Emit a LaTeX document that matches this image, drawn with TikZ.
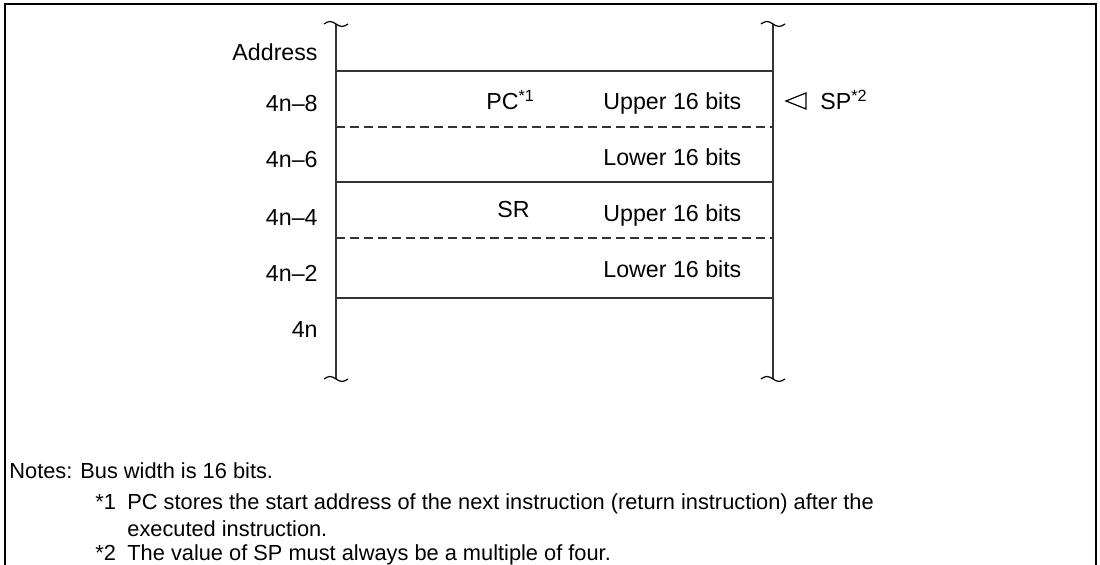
\documentclass[tikz,border=0pt]{standalone}
\usepackage{fontspec}
\setmainfont{Liberation Sans}
\begin{document}
\begin{tikzpicture}[x=0.5pt,y=-0.5pt,font=\fontsize{11.6}{14}\selectfont,
	lbl/.style={inner sep=0pt,anchor=base east},
	txt/.style={inner sep=0pt,anchor=base west},
	note/.style={inner sep=0pt,anchor=base west,font=\fontsize{10.9}{13}\selectfont},
	wall/.style={line width=0.7pt,draw=black!80},
	cut/.style={line width=0.6pt,dash pattern=on 4.5pt off 2.5pt,draw=black!80}]
	\useasboundingbox (0,0) rectangle (1100,565);
	\draw[line width=1pt] (5,565) -- (5,4) -- (1096,4) -- (1096,565);

	% Speicherwaende
	\coordinate (lt) at (336,24);
	\coordinate (lb) at (336,379);
	\coordinate (rt) at (773,24);
	\coordinate (rb) at (773,379);
	\draw[wall] (lt) -- (lb);
	\draw[wall] (rt) -- (rb);
	\foreach \p in {lt,rt,lb,rb} {
	     \draw[line width=0.6pt] ([xshift=-6pt]\p) sin ++(6,-2.5) cos ++(6,2.5) sin ++(6,2.5) cos ++(6,-2.5);
	}
	\foreach \y in {71,182,298} {
	     \draw[wall] (336,\y) -- (773,\y);
	}
	\foreach \y in {127,238} {
	     \draw[cut] (336,\y) -- (773,\y);
	}

	% Adressen
	\foreach \t/\y [count=\i] in {Address/61,4n--8/112,4n--6/168,4n--4/226,4n--2/282,4n/338} {
	     \node[lbl] (adr\i) at (318,\y) {\t};
	}
	\foreach \t/\y [count=\i] in {Upper/110,Lower/166,Upper/222,Lower/278} {
	     \node[txt] (half\i) at (603,\y) {\t{} 16 bits};
	}
	\node[txt] (pc) at (486,110) {PC\textsuperscript{*1}};
	\node[txt] (sr) at (497,218) {SR};

	% Stapelzeiger
	\draw[line width=0.6pt] (786,101) -- (806,93) -- (806,109) -- cycle;
	\node[txt] (sp) at (820,110) {SP\textsuperscript{*2}};

	% Anmerkungen
	\node[note] (notes) at (9,479) {Notes:};
	\node[note] (bus) at (80,479) {Bus width is 16 bits.};
	\node[note] (mark1) at (95,510) {*1};
	\node[note] (note1) at (127,510) {PC stores the start address of the next instruction (return instruction) after the};
	\node[note] (note1b) at (127,537) {executed instruction.};
	\node[note] (mark2) at (95,561) {*2};
	\node[note] (note2) at (127,561) {The value of SP must always be a multiple of four.};
\end{tikzpicture}
\end{document}
